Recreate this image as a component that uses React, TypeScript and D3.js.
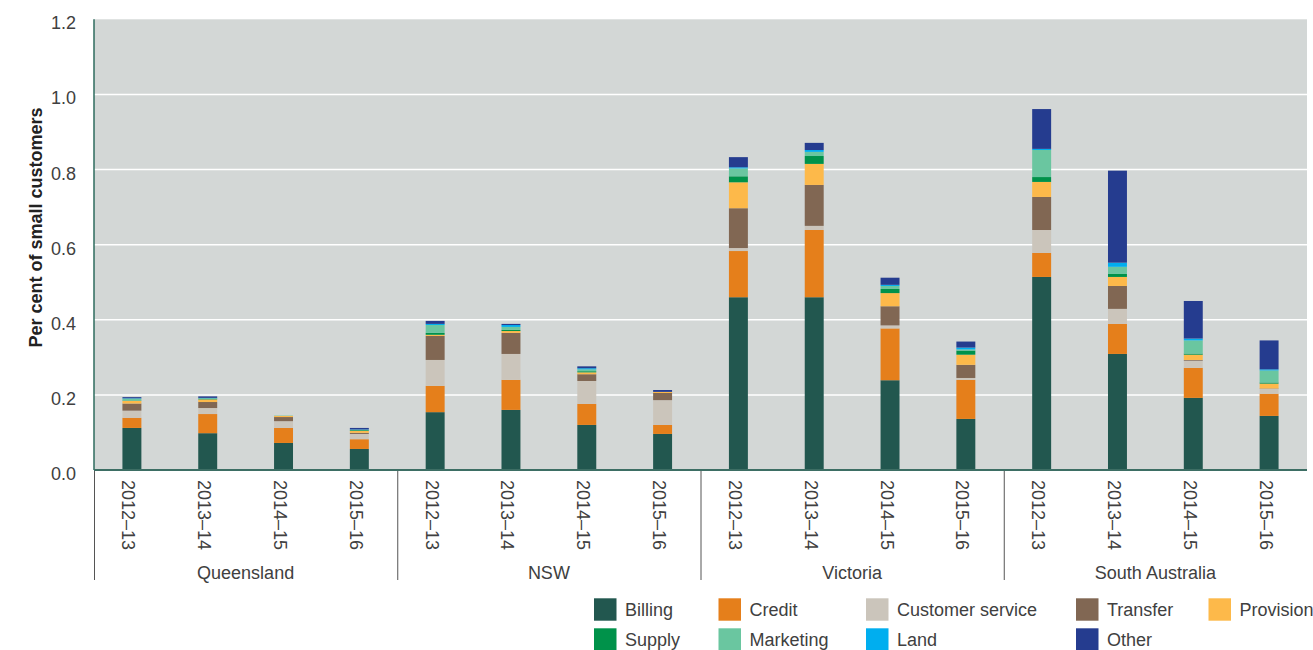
import React from 'react';
import * as d3 from 'd3';

const regions = ['Queensland', 'NSW', 'Victoria', 'South Australia'];
const years = ['2012–13', '2013–14', '2014–15', '2015–16'];

// values per bar, ordered region by region, year by year
const billing = [0.112, 0.098, 0.072, 0.056, 0.154, 0.160, 0.120, 0.096, 0.460, 0.460, 0.239, 0.136, 0.514, 0.309, 0.192, 0.144];
const credit = [0.027, 0.051, 0.040, 0.026, 0.070, 0.080, 0.056, 0.024, 0.123, 0.179, 0.138, 0.104, 0.064, 0.080, 0.080, 0.059];
const customerService = [0.019, 0.016, 0.018, 0.014, 0.069, 0.069, 0.061, 0.066, 0.008, 0.011, 0.008, 0.005, 0.061, 0.040, 0.019, 0.013];
const transfer = [0.019, 0.016, 0.011, 0.003, 0.064, 0.056, 0.018, 0.019, 0.106, 0.109, 0.051, 0.035, 0.088, 0.061, 0.002, 0.001];
const provision = [0.007, 0.007, 0.003, 0.005, 0.003, 0.005, 0.005, 0.003, 0.069, 0.056, 0.035, 0.027, 0.040, 0.024, 0.014, 0.013];
const supply = [0.001, 0.002, 0.000, 0.002, 0.005, 0.003, 0.003, 0.000, 0.016, 0.021, 0.011, 0.011, 0.013, 0.008, 0.003, 0.003];
const marketing = [0.005, 0.001, 0.001, 0.001, 0.021, 0.008, 0.005, 0.000, 0.021, 0.011, 0.008, 0.003, 0.072, 0.019, 0.035, 0.032];
const land = [0.001, 0.001, 0.000, 0.001, 0.003, 0.005, 0.003, 0.000, 0.003, 0.005, 0.003, 0.005, 0.003, 0.011, 0.005, 0.003];
const other = [0.003, 0.004, 0.000, 0.004, 0.008, 0.003, 0.005, 0.005, 0.027, 0.019, 0.019, 0.016, 0.106, 0.245, 0.100, 0.077];

const yTicks = [0, 0.2, 0.4, 0.6, 0.8, 1.0, 1.2];

const series = [
  { key: 'Billing', values: billing, color: '#22574f' },
  { key: 'Credit', values: credit, color: '#e57f1b' },
  { key: 'Customer service', values: customerService, color: '#cbc5bb' },
  { key: 'Transfer', values: transfer, color: '#816753' },
  { key: 'Provision', values: provision, color: '#fdb94a' },
  { key: 'Supply', values: supply, color: '#00924a' },
  { key: 'Marketing', values: marketing, color: '#6ac6a0' },
  { key: 'Land', values: land, color: '#00aeef' },
  { key: 'Other', values: other, color: '#253c8f' },
];

// legend order: two rows of five columns
const legendRows = [
  ['Billing', 'Credit', 'Customer service', 'Transfer', 'Provision'],
  ['Supply', 'Marketing', 'Land', 'Other'],
];
const legendCols = [594, 718.5, 866, 1076, 1208.5];

const width = 1313;
const height = 650;
const left = 94;
const right = 1307;
const top = 19.3;
const bottom = 470;
const font = '"Liberation Sans", Arial, sans-serif';
const textColor = '#404040';

export default function App() {
  const keys = regions.flatMap(r => years.map(y => `${r}|${y}`));
  const rows = keys.map((k, i) => {
    const row: Record<string, any> = { id: k };
    series.forEach(s => { row[s.key] = s.values[i]; });
    return row;
  });
  const stacked = d3.stack<any>().keys(series.map(s => s.key))(rows);

  const x = d3.scaleBand<string>()
    .domain(keys)
    .range([left, right])
    .paddingInner(0.75)
    .paddingOuter(0.375);
  const y = d3.scaleLinear().domain([0, 1.2]).range([bottom, top]);
  const step = x.step();
  const colorOf = (k: string) => series.find(s => s.key === k)!.color;

  return (
    <svg width={width} height={height} style={{ position: 'absolute', left: 0, top: 0 }} fontFamily={font}>
      <rect x={left} y={top} width={right - left} height={bottom - top} fill="#d3d7d6" />
      {yTicks.filter(t => t > 0 && t < 1.2).map(t => (
        <line key={t} x1={left} x2={right} y1={y(t)} y2={y(t)} stroke="#ffffff" strokeWidth={1.5} />
      ))}

      {stacked.map(layer => (
        <g key={layer.key} fill={colorOf(layer.key)}>
          {layer.map((d, i) => (
            <rect
              key={i}
              x={x(keys[i])}
              width={x.bandwidth()}
              y={y(d[1])}
              height={Math.max(0, y(d[0]) - y(d[1]))}
            />
          ))}
        </g>
      ))}

      <line x1={left} x2={left} y1={top} y2={bottom} stroke="#2e6b5e" strokeWidth={1.5} />
      <line x1={left} x2={right} y1={bottom} y2={bottom} stroke="#3d6e64" strokeWidth={2} />

      {yTicks.map(t => (
        <text key={t} x={76} y={y(t) + 10} textAnchor="end" fontSize={18} fill={textColor}>
          {t.toFixed(1)}
        </text>
      ))}
      <text
        transform={`translate(42,${(107 + 348) / 2}) rotate(-90)`}
        textAnchor="middle"
        fontSize={18}
        fontWeight="bold"
        fill="#222"
      >
        Per cent of small customers
      </text>

      {keys.map(k => {
        const cx = x(k)! + x.bandwidth() / 2;
        return (
          <text key={k} transform={`translate(${cx - 9.5},480) rotate(90)`} fontSize={18} fill={textColor}>
            {k.split('|')[1]}
          </text>
        );
      })}

      {regions.map((r, i) => {
        const x0 = left + i * 4 * step;
        return (
          <g key={r}>
            <line x1={x0 + 0.5} x2={x0 + 0.5} y1={471} y2={580} stroke="#555" strokeWidth={1} />
            <text x={x0 + 2 * step} y={579} textAnchor="middle" fontSize={18} fill={textColor}>{r}</text>
          </g>
        );
      })}

      {legendRows.map((row, ri) => row.map((k, ci) => (
        <g key={k} transform={`translate(${legendCols[ci]},${ri === 0 ? 598.3 : 628.3})`}>
          <rect width={22.5} height={22.4} fill={colorOf(k)} />
          <text x={31} y={17.7} fontSize={18} fill={textColor}>{k}</text>
        </g>
      )))}
    </svg>
  );
}
